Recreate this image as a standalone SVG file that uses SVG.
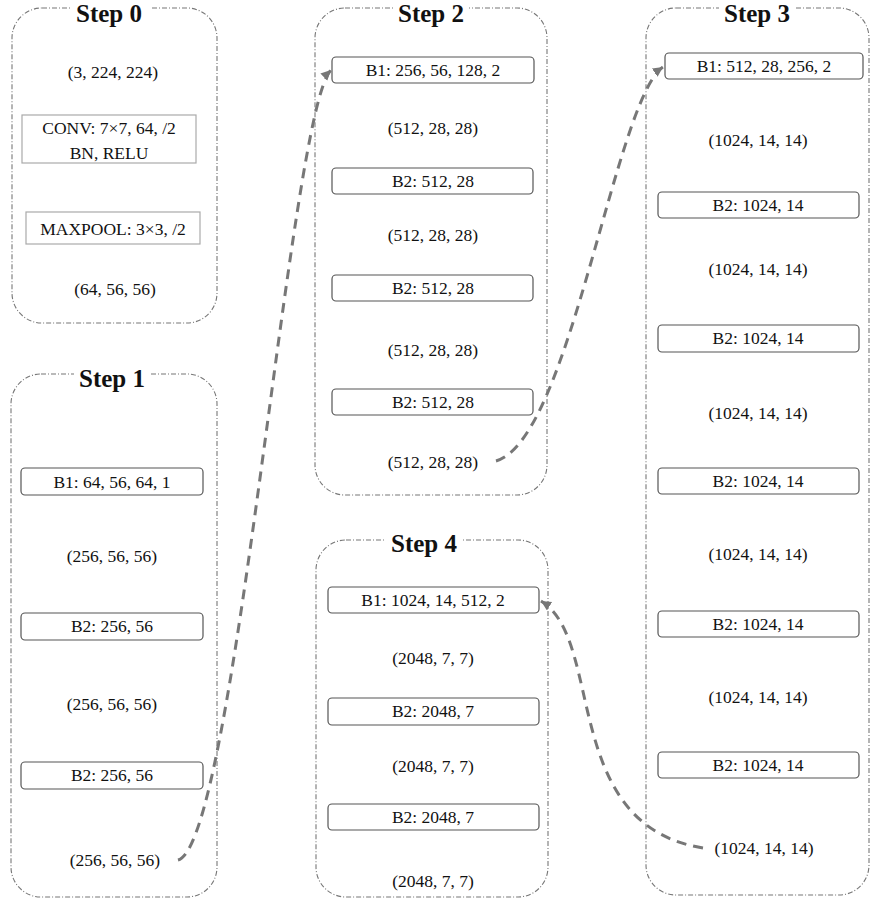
<svg xmlns="http://www.w3.org/2000/svg" width="870" height="903" viewBox="0 0 870 903">
<style>
.stage{fill:none;stroke:#777;stroke-width:1.1;stroke-dasharray:5,2,1,2}
.title{font-family:"Liberation Serif",serif;font-weight:bold;font-size:25px;fill:#111;text-anchor:middle}
.t{font-family:"Liberation Serif",serif;font-size:17.5px;fill:#111;text-anchor:middle;dominant-baseline:central}
.blk{fill:#fff;stroke:#555;stroke-width:1.2}
.sq{fill:#fff;stroke:#aaa;stroke-width:1.2}
.conn{fill:none;stroke:#777;stroke-width:3;stroke-dasharray:10,7}
</style>
<defs>
<marker id="ah" markerWidth="12" markerHeight="12" refX="10" refY="5" orient="auto" markerUnits="userSpaceOnUse">
<path d="M0,0 L10,5 L0,10 Z" fill="#777"/>
</marker>
</defs>
<rect x="0" y="0" width="870" height="903" fill="#fff"/>

<g id="step0">
<rect class="stage" x="12" y="8" width="205" height="315" rx="30"/>
<rect x="70" y="0" width="80" height="18" fill="#fff"/>
<text class="title" x="109" y="22">Step 0</text>
<text class="t" x="113" y="72">(3, 224, 224)</text>
<rect class="sq" x="22" y="115" width="174" height="48"/>
<text class="t" x="109" y="128">CONV: 7×7, 64, /2</text>
<text class="t" x="109" y="153">BN, RELU</text>
<rect class="sq" x="26" y="212" width="174" height="32"/>
<text class="t" x="113" y="229">MAXPOOL: 3×3, /2</text>
<text class="t" x="115" y="289">(64, 56, 56)</text>
</g>

<g id="step1">
<rect class="stage" x="11" y="374" width="206" height="523" rx="30"/>
<rect x="74" y="366" width="76" height="18" fill="#fff"/>
<text class="title" x="112" y="387">Step 1</text>
<rect class="blk" x="21" y="468" width="182" height="27" rx="4"/>
<text class="t" x="112" y="482">B1: 64, 56, 64, 1</text>
<text class="t" x="112" y="556">(256, 56, 56)</text>
<rect class="blk" x="21" y="613" width="182" height="27" rx="4"/>
<text class="t" x="112" y="626">B2: 256, 56</text>
<text class="t" x="112" y="704">(256, 56, 56)</text>
<rect class="blk" x="21" y="762" width="182" height="27" rx="4"/>
<text class="t" x="112" y="775">B2: 256, 56</text>
<text class="t" x="115" y="860">(256, 56, 56)</text>
</g>

<g id="step2">
<rect class="stage" x="315" y="8" width="232" height="487" rx="30"/>
<rect x="393" y="0" width="76" height="18" fill="#fff"/>
<text class="title" x="431" y="22">Step 2</text>
<rect class="blk" x="332" y="57" width="202" height="26" rx="4"/>
<text class="t" x="433" y="70">B1: 256, 56, 128, 2</text>
<text class="t" x="433" y="128">(512, 28, 28)</text>
<rect class="blk" x="332" y="168" width="201" height="26" rx="4"/>
<text class="t" x="433" y="181">B2: 512, 28</text>
<text class="t" x="433" y="235">(512, 28, 28)</text>
<rect class="blk" x="332" y="275" width="201" height="26" rx="4"/>
<text class="t" x="433" y="288">B2: 512, 28</text>
<text class="t" x="433" y="350">(512, 28, 28)</text>
<rect class="blk" x="332" y="389" width="201" height="26" rx="4"/>
<text class="t" x="433" y="402">B2: 512, 28</text>
<text class="t" x="433" y="462">(512, 28, 28)</text>
</g>

<g id="step3">
<rect class="stage" x="646" y="8" width="223" height="887" rx="30"/>
<rect x="719" y="0" width="76" height="18" fill="#fff"/>
<text class="title" x="757" y="22">Step 3</text>
<rect class="blk" x="665" y="53" width="198" height="26" rx="4"/>
<text class="t" x="764" y="66">B1: 512, 28, 256, 2</text>
<text class="t" x="758" y="140">(1024, 14, 14)</text>
<rect class="blk" x="658" y="192" width="201" height="26" rx="4"/>
<text class="t" x="758" y="205">B2: 1024, 14</text>
<text class="t" x="758" y="269">(1024, 14, 14)</text>
<rect class="blk" x="658" y="325" width="201" height="27" rx="4"/>
<text class="t" x="758" y="338">B2: 1024, 14</text>
<text class="t" x="758" y="413">(1024, 14, 14)</text>
<rect class="blk" x="658" y="468" width="201" height="26" rx="4"/>
<text class="t" x="758" y="481">B2: 1024, 14</text>
<text class="t" x="758" y="554">(1024, 14, 14)</text>
<rect class="blk" x="658" y="611" width="201" height="26" rx="4"/>
<text class="t" x="758" y="624">B2: 1024, 14</text>
<text class="t" x="758" y="697">(1024, 14, 14)</text>
<rect class="blk" x="658" y="752" width="201" height="26" rx="4"/>
<text class="t" x="758" y="765">B2: 1024, 14</text>
<text class="t" x="764" y="848">(1024, 14, 14)</text>
</g>

<g id="step4">
<rect class="stage" x="316" y="540" width="232" height="357" rx="30"/>
<rect x="386" y="532" width="76" height="18" fill="#fff"/>
<text class="title" x="424" y="552">Step 4</text>
<rect class="blk" x="328" y="587" width="211" height="26" rx="4"/>
<text class="t" x="433" y="600">B1: 1024, 14, 512, 2</text>
<text class="t" x="433" y="658">(2048, 7, 7)</text>
<rect class="blk" x="328" y="698" width="211" height="27" rx="4"/>
<text class="t" x="433" y="711">B2: 2048, 7</text>
<text class="t" x="433" y="766">(2048, 7, 7)</text>
<rect class="blk" x="328" y="804" width="211" height="26" rx="4"/>
<text class="t" x="433" y="817">B2: 2048, 7</text>
<text class="t" x="433" y="881">(2048, 7, 7)</text>
</g>

<g id="connectors">
<path class="conn" d="M178,860 C235,845 290,110 331,70" marker-end="url(#ah)"/>
<path class="conn" d="M496,461 C570,440 615,100 663,67" marker-end="url(#ah)"/>
<path class="conn" d="M703,848 C560,825 605,640 541,601" marker-end="url(#ah)"/>
</g>
</svg>
